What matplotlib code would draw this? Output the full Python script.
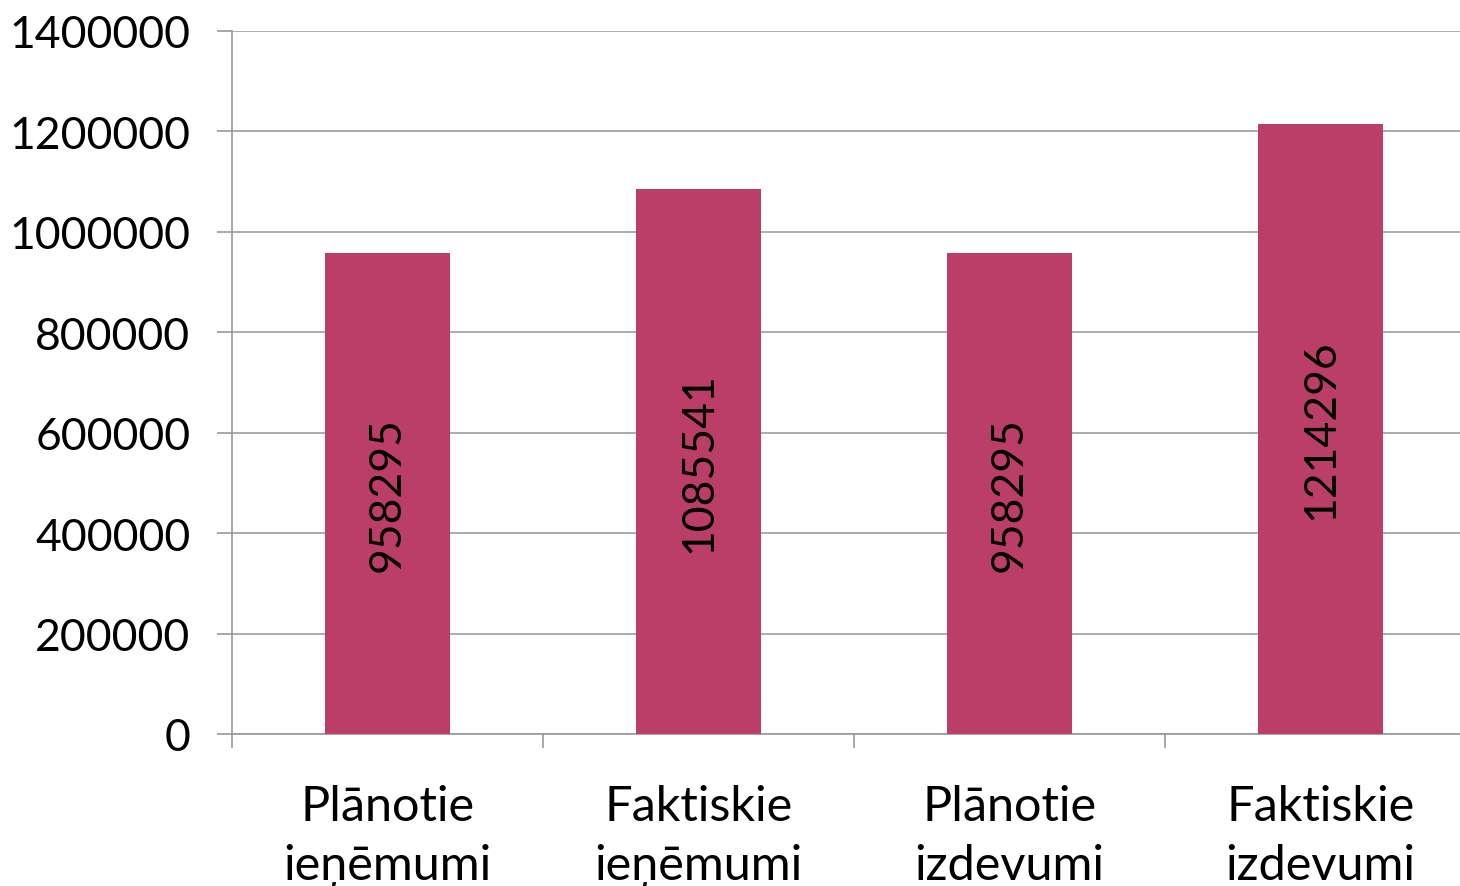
import numpy as np
import matplotlib.pyplot as plt

categories = ['Plānotie\nieņēmumi', 'Faktiskie\nieņēmumi', 'Plānotie\nizdevumi', 'Faktiskie\nizdevumi']
values = [958295, 1085541, 958295, 1214296]
y_ticks = [0, 200000, 400000, 600000, 800000, 1000000, 1200000, 1400000]

plt.rcParams['font.family'] = ['Lato', 'DejaVu Sans']

fig = plt.figure(figsize=(14.6, 8.87), dpi=100)
ax1 = fig.add_axes([232/1460, 1 - 735/887, 1244/1460, 703/887])

x = np.arange(len(categories))
bars = ax1.bar(x, values, width=0.4, color='#BB3E68', zorder=3)

for xi, v in zip(x, values):
    ax1.text(xi, v / 2, str(v), rotation=90, ha='center', va='center',
             fontsize=32, color='black', zorder=4)

ax1.set_xlim(-0.5, 3.5)
ax1.set_ylim(0, 1400000)
ax1.set_yticks(y_ticks)
ax1.set_yticklabels([str(t) for t in y_ticks], fontsize=32)
ax1.set_xticks(x)
ax1.set_xticklabels(categories, fontsize=35, linespacing=1.42)
ax1.set_xticks(np.arange(-0.5, 4.0, 1.0), minor=True)

ax1.tick_params(axis='x', which='major', length=0, pad=36)
ax1.tick_params(axis='x', which='minor', length=10, color='#999999', width=1.2)
ax1.tick_params(axis='y', length=11, color='#999999', width=1.2, pad=19)

ax1.grid(axis='y', color='#A6A6A6', linewidth=1.3, zorder=0)
for s in ['top', 'right']:
    ax1.spines[s].set_visible(False)
ax1.spines['left'].set_color('#999999')
ax1.spines['bottom'].set_color('#999999')
ax1.spines['left'].set_linewidth(1.2)
ax1.spines['bottom'].set_linewidth(1.2)

fig.savefig('out.png', dpi=100)
